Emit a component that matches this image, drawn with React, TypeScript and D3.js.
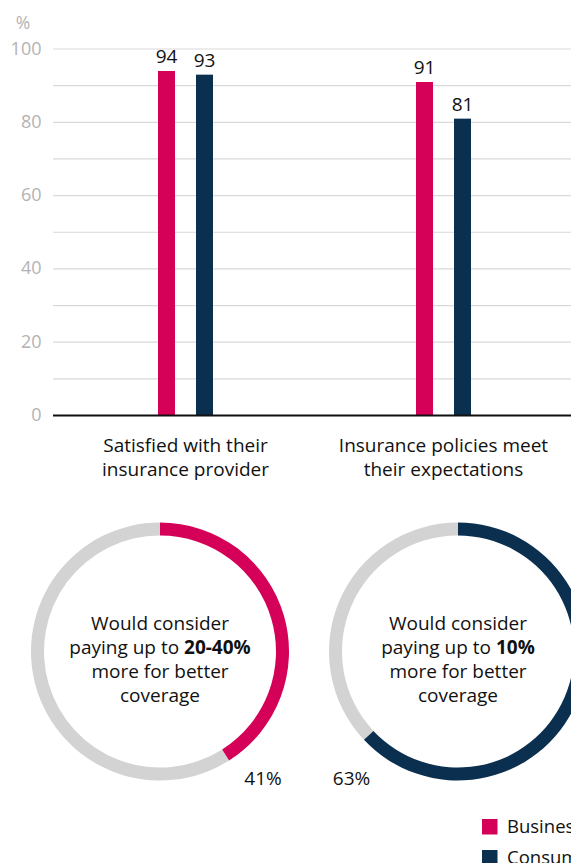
import React from "react";
import * as d3 from "d3";

const categories = ["Satisfied with their insurance provider", "Insurance policies meet their expectations"];
const categoryLines = [["Satisfied with their", "insurance provider"], ["Insurance policies meet", "their expectations"]];
const seriesNames = ["Business", "Consumer"];
const businessValues = [94, 91];
const consumerValues = [93, 81];
const yTicks = [0, 20, 40, 60, 80, 100];
const yGrid = [10, 20, 30, 40, 50, 60, 70, 80, 90, 100];

const donutSeries = ["Business", "Consumer"];
const donutValues = [41, 63];
const donutHighlight = ["20-40%", "10%"];
const donutLabels = ["41%", "63%"];

const COLORS: Record<string, string> = { Business: "#d50057", Consumer: "#0b2f4f" };
const GRAY_RING = "#d3d3d3";
const FONT = "'Open Sans', sans-serif";

export default function App() {
  const W = 571, H = 863;
  const y = d3.scaleLinear().domain([0, 100]).range([415.5, 49]);
  const x0 = d3.scaleBand<string>().domain(categories).range([56.5, 572.5]);
  const x1 = d3.scaleBand<string>().domain(seriesNames).range([-27.5, 27.5]).paddingInner(0.553);
  const values: Record<string, number[]> = { Business: businessValues, Consumer: consumerValues };

  const pie = d3.pie<number>().sort(null).value((d) => d);
  const arc = d3.arc<d3.PieArcDatum<number>>().innerRadius(116).outerRadius(129);
  const donutCenters = [[160, 651.5], [458, 651.5]];
  const labelPos = [[263, 785], [351.5, 785]];

  return (
    <svg width={W} height={H} style={{ position: "absolute", left: 0, top: 0, fontFamily: FONT }}>
      <text x={23} y={29} textAnchor="middle" fontSize={17.5} fill="#b3b3b3">%</text>
      {yGrid.map((t) => (
        <line key={t} x1={53} x2={W} y1={y(t)} y2={y(t)} stroke="#d9d9d9" strokeWidth={1.2} />
      ))}
      {yTicks.map((t) => (
        <text key={t} x={41.5} y={y(t) + 5.5} textAnchor="end" fontSize={18} fill="#b3b3b3">{t}</text>
      ))}
      {categories.map((c, i) => {
        const cx = (x0(c) as number) + x0.bandwidth() / 2;
        return (
          <g key={c}>
            {seriesNames.map((s) => {
              const v = values[s][i];
              const bx = cx + (x1(s) as number);
              return (
                <g key={s}>
                  <rect x={bx} y={y(v)} width={x1.bandwidth()} height={y(0) - y(v)} fill={COLORS[s]} />
                  <text x={bx + x1.bandwidth() / 2} y={y(v) - 8} textAnchor="middle" fontSize={19} fill="#111">{v}</text>
                </g>
              );
            })}
            {categoryLines[i].map((l, j) => (
              <text key={j} x={cx} y={452 + j * 23.5} textAnchor="middle" fontSize={19} fill="#111">{l}</text>
            ))}
          </g>
        );
      })}
      <line x1={53} x2={W} y1={y(0)} y2={y(0)} stroke="#111" strokeWidth={2.2} />

      {donutValues.map((v, i) => {
        const [cx, cy] = donutCenters[i];
        const arcs = pie([v, 100 - v]);
        return (
          <g key={i}>
            <g transform={`translate(${cx},${cy})`}>
              <path d={arc(arcs[1]) as string} fill={GRAY_RING} />
              <path d={arc(arcs[0]) as string} fill={COLORS[donutSeries[i]]} />
              <text textAnchor="middle" fontSize={19} fill="#111">
                <tspan x={0} y={-22}>Would consider</tspan>
                <tspan x={0} y={2}>paying up to <tspan fontWeight="bold">{donutHighlight[i]}</tspan></tspan>
                <tspan x={0} y={26}>more for better</tspan>
                <tspan x={0} y={50}>coverage</tspan>
              </text>
            </g>
            <text x={labelPos[i][0]} y={labelPos[i][1]} textAnchor="middle" fontSize={19} fill="#111">{donutLabels[i]}</text>
          </g>
        );
      })}

      {seriesNames.map((s, i) => (
        <g key={s} transform={`translate(482,${819 + i * 31})`}>
          <rect width={15.5} height={15.5} fill={COLORS[s]} />
          <text x={25} y={13.5} fontSize={18.5} fill="#111">{s}</text>
        </g>
      ))}
    </svg>
  );
}
